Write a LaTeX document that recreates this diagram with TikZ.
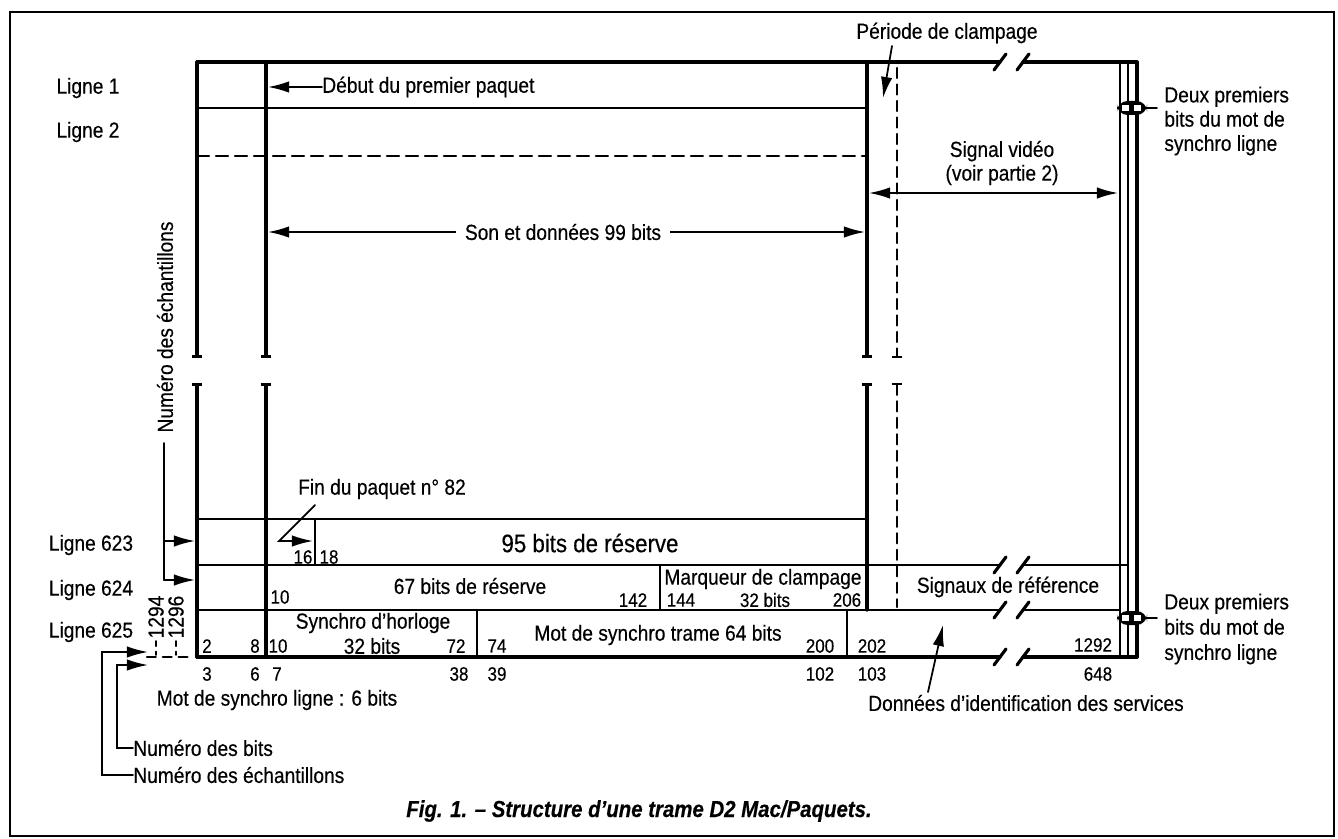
\documentclass[tikz,border=0pt]{standalone}
\usepackage{fontspec}
\setmainfont{Liberation Sans}[FakeStretch=0.88,FakeBold=0.4]
\usetikzlibrary{arrows.meta}
\begin{document}
\begin{tikzpicture}[x=0.02cm,y=-0.02cm,line cap=round,
  >={Latex[length=12pt,width=6.5pt]},
  txt/.style={font=\fontsize{12.4}{14}\selectfont,inner sep=0pt},
  num/.style={font=\fontsize{11}{12}\selectfont,inner sep=0pt},
  big/.style={font=\fontsize{14.4}{16}\selectfont,inner sep=0pt},
  thk/.style={line width=1.8pt},
  sep/.style={line width=1.4pt},
  lead/.style={line width=1pt},
  dsh/.style={line width=1.4pt,dash pattern=on 0.24cm off 0.14cm},
  cut/.style={-{Bar[width=6pt]}},
  uncut/.style={{Bar[width=6pt]}-}]
  \useasboundingbox (0,0) rectangle (1338,838);
  \draw[line width=1.1pt] (10,12) rectangle (1334,836);

  % horizontal lines
  \draw[thk] (197,62) -- (1000,62) (1023,62) -- (1137,62);
  \draw[sep] (197,108) -- (867,108);
  \draw[dsh] (197,156) -- (867,156);
  \draw[sep] (197,519) -- (867,519);
  \draw[sep] (197,565) -- (1000,565) (1023,565) -- (1128,565);
  \draw[sep] (197,610) -- (1000,610) (1023,610) -- (1120,610);
  \draw[thk] (197,657) -- (1000,657) (1023,657) -- (1137,657);
  \draw[sep,dash pattern=on 5pt off 4pt] (147,657) -- (192,657);
  \foreach \y in {62,565,610,657}
    \foreach \x in {1000,1023}
      \draw[thk] (\x-6,\y+8) -- (\x+6,\y-8);

  % vertical lines, cut in the middle
  \foreach \x in {197,266} {
    \draw[thk,cut] (\x,62) -- (\x,358);
    \draw[thk,uncut] (\x,383) -- (\x,657);
  }
  \draw[thk,cut] (867,62) -- (867,358);
  \draw[thk,uncut] (867,383) -- (867,610);
  \draw[sep,cut,dash pattern=on 0.2cm off 0.13cm] (897,68) -- (897,358);
  \draw[sep,uncut,dash pattern=on 0.2cm off 0.13cm] (897,383) -- (897,607);
  \draw[sep] (1120,62) -- (1120,657);
  \draw[sep] (1128,62) -- (1128,657);
  \draw[thk] (1137,62) -- (1137,657);

  % cells of the last lines
  \draw[sep] (315,519) -- (315,565);
  \draw[sep] (660,565) -- (660,610);
  \draw[sep] (477,610) -- (477,657);
  \draw[sep] (847,610) -- (847,657);

  % first two bits
  \foreach \y in {108,618} {
    \draw[lead] (1146,\y) -- (1157,\y);
    \fill[rounded corners=6pt] (1117,\y-7) rectangle (1147,\y+7);
    \fill[white] (1122,\y-3) rectangle (1129,\y+3);
    \fill[white] (1134,\y-3) rectangle (1141,\y+3);
  }

  % line labels
  \node[txt] (l1) at (88,88) {Ligne 1};
  \node[txt] (l2) at (88,132) {Ligne 2};
  \node[txt] (l623) at (91,545) {Ligne 623};
  \node[txt] (l624) at (91,590) {Ligne 624};
  \node[txt] (l625) at (91,632) {Ligne 625};

  \node[txt,rotate=90] (numech) at (165,327) {Numéro des échantillons};
  \draw[lead] (164,443) -- (164,580);
  \draw[lead,->] (164,541) -- (195,541);
  \draw[lead,->] (164,580) -- (195,580);

  % upper part
  \node[txt,anchor=west] (debut) at (322,87) {Début du premier paquet};
  \draw[lead,->] (debut.west) -- (268,87);
  \draw[lead,<->] (268,232) -- (865,232);
  \node[txt,fill=white,inner xsep=5pt,inner ysep=2pt] (son) at (563,232) {Son et données 99 bits};
  \node[txt] (clamp) at (947,33) {Période de clampage};
  \draw[lead,->] (892,46) -- (883,98);
  \node[txt,align=center,font=\fontsize{12.4}{13.5}\selectfont] (video) at (1002,163) {Signal vidéo\\(voir partie 2)};
  \draw[lead,<->] (869,193) -- (1118,193);
  \node[txt,align=left,anchor=west,font=\fontsize{12.4}{13.8}\selectfont] (deux1) at (1164,121) {Deux premiers\\bits du mot de\\synchro ligne};
  \node[txt,align=left,anchor=west,font=\fontsize{12.4}{14.4}\selectfont] (deux2) at (1164,629) {Deux premiers\\bits du mot de\\synchro ligne};

  % line 623
  \node[txt] (fin) at (382,489) {Fin du paquet n° 82};
  \draw[lead,->] (315,505) -- (279,541) -- (313,541);
  \node[num] (b16) at (303,557) {16};
  \node[num] (b18) at (329,557) {18};
  \node[big] (res95) at (590,543) {95 bits de réserve};

  % line 624
  \node[num] (b10a) at (280,597) {10};
  \node[txt] (res67) at (470,586) {67 bits de réserve};
  \node[num] (b142) at (633,600) {142};
  \node[txt] (marq) at (763,579) {Marqueur de clampage};
  \node[num] (b144) at (681,600) {144};
  \node[num] (b32a) at (765,600) {32 bits};
  \node[num] (b206) at (847,600) {206};
  \node[txt] (sref) at (1008,587) {Signaux de référence};

  % line 625
  \node[txt,rotate=90] (n1294) at (156,617) {1294};
  \node[txt,rotate=90] (n1296) at (176,617) {1296};
  \draw[lead,dash pattern=on 3pt off 3pt] (156,641) -- (156,655);
  \draw[lead,dash pattern=on 3pt off 3pt] (176,641) -- (176,655);
  \node[num] (b2) at (207,646) {2};
  \node[num] (b8) at (255,646) {8};
  \node[num] (b10b) at (278,646) {10};
  \node[txt] (horl) at (373,623) {Synchro d’horloge};
  \node[txt] (b32b) at (372,646) {32 bits};
  \node[num] (b72) at (456,646) {72};
  \node[num] (b74) at (497,646) {74};
  \node[txt] (trame) at (658,635) {Mot de synchro trame 64 bits};
  \node[num] (b200) at (820,646) {200};
  \node[num] (b202) at (872,646) {202};
  \node[num] (b1292) at (1093,645) {1292};

  % sample numbers
  \foreach \x/\n in {207/3,255/6,277/7,459/38,497/39,820/102,872/103,1098/648}
    \node[num] at (\x,674) {\n};

  \node[txt] (motl) at (277,700) {Mot de synchro ligne : 6 bits};
  \node[txt,anchor=west] (nbits) at (133,748) {Numéro des bits};
  \node[txt,anchor=west] (nech) at (133,775) {Numéro des échantillons};
  \draw[lead,->] (nbits.west) -- (117,748) -- (117,665) -- (148,665);
  \draw[lead,->] (nech.west) -- (102,775) -- (102,652) -- (148,652);

  \node[txt] (donnees) at (1026,703) {Données d’identification des services};
  \draw[lead,->] (928,692) -- (943,625);

  \node[font=\fontsize{13.2}{16}\selectfont\bfseries\itshape] (cap) at (639,811) {Fig. 1. – Structure d’une trame D2 Mac/Paquets.};
\end{tikzpicture}
\end{document}
